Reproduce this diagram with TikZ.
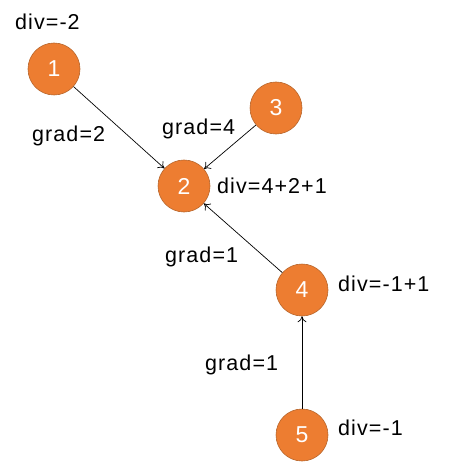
\documentclass[tikz,border=0pt]{standalone}
\usepackage{fontspec}
\setmainfont{Liberation Sans}[LetterSpace=5]
\usetikzlibrary{arrows.meta}
\definecolor{vertexfill}{HTML}{ED7D31}
\definecolor{vertexline}{HTML}{B7652B}
\tikzset{
    vertex/.style={circle, fill=vertexfill, draw=vertexline, line width=0.6pt,
        minimum size=52pt, inner sep=0pt, text=white, font=\fontsize{23}{26}\selectfont},
    note/.style={anchor=base west, inner sep=0pt, font=\fontsize{21.5}{24}\selectfont},
    edge/.style={-{To[length=6pt,width=9pt]}, line width=0.7pt}
}
\begin{document}
\begin{tikzpicture}[x=1pt, y=-1pt]
                \useasboundingbox (0,0) rectangle (452,465);
                \node[vertex] (v1) at (54,69) {1};
                \node[vertex] (v2) at (184,186) {2};
                \node[vertex] (v3) at (276,108) {3};
                \node[vertex] (v4) at (302,290) {4};
                \node[vertex] (v5) at (302,435) {5};
                \node[note] (d1) at (15,30) {div=-2};
                \node[note] (d2) at (217,193) {div=4+2+1};
                \node[note] (d4) at (338,291) {div=-1+1};
                \node[note] (d5) at (338,435) {div=-1};
                \node[note] (g12) at (32,142) {grad=2};
                \node[note] (g32) at (162,135) {grad=4};
                \node[note] (g42) at (165,262) {grad=1};
                \node[note] (g54) at (205,370) {grad=1};
                \draw[edge] (v1) -- (v2);
                \draw[edge] (v3) -- (v2);
                \draw[edge] (v4) -- (v2);
                \draw[edge] (v5) -- (v4);
            \end{tikzpicture}
\end{document}
